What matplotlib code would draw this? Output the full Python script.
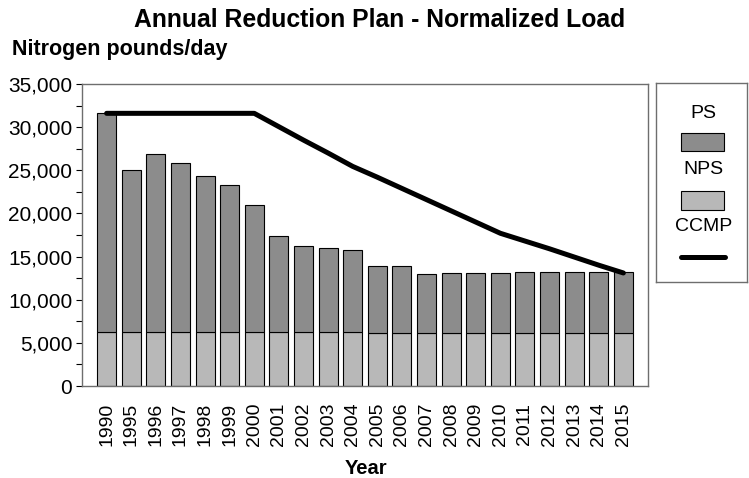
import matplotlib
matplotlib.use("Agg")
import matplotlib.pyplot as plt
import numpy as np
from matplotlib.patches import Rectangle
from matplotlib.lines import Line2D
from matplotlib.ticker import FuncFormatter, MultipleLocator

plt.rcParams['font.family'] = ['Liberation Sans', 'DejaVu Sans']

years = ['1990', '1995', '1996', '1997', '1998', '1999', '2000', '2001', '2002', '2003', '2004',
         '2005', '2006', '2007', '2008', '2009', '2010', '2011', '2012', '2013', '2014', '2015']
# total load (PS + NPS) and NPS part, pounds/day
total = [31600, 25050, 26900, 25800, 24350, 23250, 21000, 17350, 16200, 15950, 15750,
         13880, 13880, 13030, 13070, 13070, 13070, 13180, 13250, 13250, 13250, 13250]
nps = [6230, 6230, 6230, 6230, 6230, 6230, 6230, 6230, 6230, 6230, 6230,
       6110, 6110, 6110, 6110, 6110, 6110, 6110, 6110, 6110, 6110, 6110]
ps = [t - n for t, n in zip(total, nps)]
ccmp = [31600, 31600, 31600, 31600, 31600, 31600, 31600, 30050, 28500, 27000, 25450,
        24200, 22900, 21600, 20300, 19000, 17700, 16800, 15900, 14950, 14000, 13100]

dark = '#8c8c8c'
light = '#b8b8b8'

fig = plt.figure(figsize=(7.49, 4.78), dpi=100)
ax = fig.add_axes([82/749, 1-386/478, (648-82)/749, (386-84)/478])

x = np.arange(len(years))
ax.bar(x, nps, width=0.77, color=light, edgecolor='black', linewidth=0.8, zorder=2)
ax.bar(x, ps, width=0.77, bottom=nps, color=dark, edgecolor='black', linewidth=0.8, zorder=2)
ax.plot(x, ccmp, color='black', linewidth=3.6, solid_capstyle='round', zorder=3)

ax.set_xlim(-1.0, 22.0)
ax.set_ylim(0, 35000)
ax.yaxis.set_major_locator(MultipleLocator(5000))
ax.yaxis.set_minor_locator(MultipleLocator(2500))
ax.yaxis.set_major_formatter(FuncFormatter(lambda v, p: '{:,.0f}'.format(v)))
ax.set_xticks(x)
ax.set_xticklabels(years, rotation=90, fontsize=14)
ax.tick_params(axis='y', which='both', direction='out', length=4, width=0.8, labelsize=15, pad=3)
ax.tick_params(axis='x', direction='in', length=8, width=0.8, pad=12)
for s in ax.spines.values():
    s.set_color('#6e6e6e')
    s.set_linewidth(1.0)

fig.text(380/749, 1-20/478, 'Annual Reduction Plan - Normalized Load', ha='center', va='center',
         fontsize=17.8, fontweight='bold')
fig.text(12/749, 1-49/478, 'Nitrogen pounds/day', ha='left', va='center', fontsize=15.5, fontweight='bold')
fig.text(366/749, 1-468/478, 'Year', ha='center', va='center', fontsize=14.5, fontweight='bold')

# legend box
lax = fig.add_axes([656/749, 1-282/478, 91/749, 199/478])
lax.set_xlim(0, 1)
lax.set_ylim(0, 1)
lax.set_xticks([])
lax.set_yticks([])
for s in lax.spines.values():
    s.set_color('#6e6e6e')
    s.set_linewidth(1.0)
lax.text(0.52, 0.849, 'PS', ha='center', va='center', fontsize=14)
lax.add_patch(Rectangle((0.275, 0.658), 0.473, 0.091, facecolor=dark, edgecolor='black', linewidth=0.8))
lax.text(0.52, 0.563, 'NPS', ha='center', va='center', fontsize=14)
lax.add_patch(Rectangle((0.275, 0.362), 0.473, 0.095, facecolor=light, edgecolor='black', linewidth=0.8))
lax.text(0.52, 0.281, 'CCMP', ha='center', va='center', fontsize=14)
lax.add_line(Line2D([0.27, 0.76], [0.126, 0.126], color='black', linewidth=3.6, solid_capstyle='round'))

fig.savefig('out.png', dpi=100)
